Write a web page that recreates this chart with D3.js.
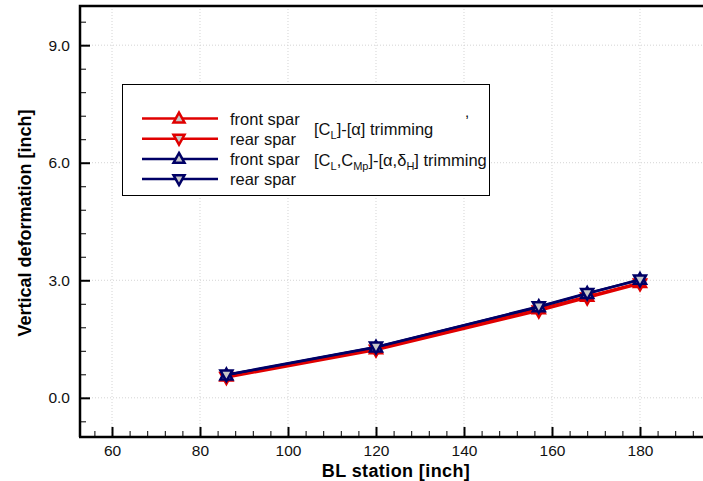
<!DOCTYPE html>
<html>
<head>
<meta charset="utf-8">
<script src="https://cdn.jsdelivr.net/npm/d3@7"></script>
<style>
body { margin:0; background:#fff; }
text { font-family: "Liberation Sans", Arial, sans-serif; }
</style>
</head>
<body>
<div id="chart"></div>
<script>

// BL station of each spar node
var stations = [86, 120, 157, 168, 180];

// vertical deformation [inch]
var cl_front = [0.55, 1.25, 2.27, 2.59, 2.94];
var cl_rear  = [0.52, 1.22, 2.22, 2.55, 2.91];
var clcm_front = [0.58, 1.29, 2.32, 2.66, 3.02];
var clcm_rear  = [0.59, 1.30, 2.33, 2.67, 3.01];

var xticks = [60, 80, 100, 120, 140, 160, 180];
var yticks = [0, 3, 6, 9];
var ytick_labels = ['0.0', '3.0', '6.0', '9.0'];

var series_names = ['front spar', 'rear spar', 'front spar', 'rear spar'];

var red = '#e00000', navy = '#000066';

var series = [
    {vals: cl_front, color: red, up: true},
    {vals: cl_rear, color: red, up: false},
    {vals: clcm_front, color: navy, up: true},
    {vals: clcm_rear, color: navy, up: false}
];

var W = 703, H = 481;

var svg = d3.select('#chart').append('svg')
    .attr('width', W).attr('height', H);

var x = d3.scaleLinear().domain([52.727, 194.32]).range([80, 703]);
var y = d3.scaleLinear().domain([-1, 10]).range([437, 6]);

// dotted grid on the major ticks
svg.append('g').selectAll('line')
    .data(xticks).enter().append('line')
    .attr('x1', d => x(d)).attr('x2', d => x(d))
    .attr('y1', 6).attr('y2', 437)
    .attr('stroke', '#d4d4d4').attr('stroke-dasharray', '1,2');
svg.append('g').selectAll('line')
    .data(yticks).enter().append('line')
    .attr('y1', d => y(d)).attr('y2', d => y(d))
    .attr('x1', 80).attr('x2', W)
    .attr('stroke', '#d4d4d4').attr('stroke-dasharray', '1,2');

// axes: ticks point inward
var xminor = d3.range(56, 195, 4).filter(v => xticks.indexOf(v) < 0);
var yminor = d3.range(-0.6, 10, 0.6).filter(v => Math.abs(v / 3 - Math.round(v / 3)) > 0.01);

var xaxis = svg.append('g').attr('transform', 'translate(0,437)');
xaxis.call(d3.axisBottom(x).tickValues(xminor).tickSize(-6).tickFormat(''))
xaxis.select('.domain').remove();
var xaxis_major = svg.append('g').attr('transform', 'translate(0,437)')
    .call(d3.axisBottom(x).tickValues(xticks).tickSize(-10).tickPadding(8).tickFormat(d3.format('d')));
xaxis_major.select('.domain').remove();
xaxis_major.selectAll('line').attr('stroke-width', 2);

var yaxis = svg.append('g').attr('transform', 'translate(80,0)');
yaxis.call(d3.axisLeft(y).tickValues(yminor).tickSize(-6).tickFormat(''));
yaxis.select('.domain').remove();
var yaxis_major = svg.append('g').attr('transform', 'translate(80,0)')
    .call(d3.axisLeft(y).tickValues(yticks).tickSize(-10).tickPadding(10)
        .tickFormat((d, i) => ytick_labels[i]));
yaxis_major.select('.domain').remove();
yaxis_major.selectAll('line').attr('stroke-width', 2);

svg.selectAll('.tick text')
    .style('font-size', '15.5px')
    .style('font-family', '"Liberation Sans", Arial, sans-serif')
    .attr('fill', '#111');

// frame lines
svg.append('path')
    .attr('d', 'M80,437 L80,6 L' + W + ',6 M79,437 L' + W + ',437')
    .attr('fill', 'none').attr('stroke', '#000').attr('stroke-width', 2.5);

function tri(up, s) {
    var h = s * 0.9;
    if (up) return 'M0,' + (-h * 0.6) + ' L' + (s / 2) + ',' + (h * 0.4) + ' L' + (-s / 2) + ',' + (h * 0.4) + 'Z';
    return 'M0,' + (h * 0.6) + ' L' + (s / 2) + ',' + (-h * 0.4) + ' L' + (-s / 2) + ',' + (-h * 0.4) + 'Z';
}

var line = d3.line().x(d => x(d[0])).y(d => y(d[1]));

series.forEach(function (s) {
    var pts = stations.map((st, i) => [st, s.vals[i]]);
    svg.append('path')
        .datum(pts)
        .attr('d', line)
        .attr('fill', 'none')
        .attr('stroke', s.color)
        .attr('stroke-width', 2.5);
    svg.append('g').selectAll('path')
        .data(pts).enter().append('path')
        .attr('transform', d => 'translate(' + x(d[0]) + ',' + y(d[1]) + ')')
        .attr('d', tri(s.up, 12))
        .attr('fill', '#c8c8c8')
        .attr('stroke', s.color)
        .attr('stroke-width', 2.5);
});

// legend
var leg = svg.append('g');
leg.append('rect')
    .attr('x', 122.5).attr('y', 84.5).attr('width', 367).attr('height', 111)
    .attr('fill', '#fff').attr('stroke', '#000').attr('stroke-width', 1);

var rows = leg.selectAll('g.row')
    .data(series).enter().append('g')
    .attr('transform', (d, i) => 'translate(0,' + (118.5 + i * 20.2) + ')');
rows.append('line')
    .attr('x1', 142).attr('x2', 218).attr('y1', 0).attr('y2', 0)
    .attr('stroke', d => d.color).attr('stroke-width', 2.5);
rows.append('path')
    .attr('transform', 'translate(179,0)')
    .attr('d', d => tri(d.up, 11))
    .attr('fill', '#c8c8c8')
    .attr('stroke', d => d.color).attr('stroke-width', 2.5);
rows.append('text')
    .attr('x', 230).attr('y', 6)
    .style('font-size', '16.5px')
    .attr('fill', '#111')
    .text((d, i) => series_names[i]);

var g1 = leg.append('text').attr('x', 314).attr('y', 135).style('font-size', '16.5px').attr('fill', '#111');
g1.append('tspan').text('[C');
g1.append('tspan').attr('dy', 4).style('font-size', '11px').text('L');
g1.append('tspan').attr('dy', -4).text(']-[α] trimming');

var g2 = leg.append('text').attr('x', 314).attr('y', 166).style('font-size', '16.5px').attr('fill', '#111');
g2.append('tspan').text('[C');
g2.append('tspan').attr('dy', 4).style('font-size', '11px').text('L');
g2.append('tspan').attr('dy', -4).text(',C');
g2.append('tspan').attr('dy', 4).style('font-size', '11px').text('Mp');
g2.append('tspan').attr('dy', -4).text(']-[α,δ');
g2.append('tspan').attr('dy', 4).style('font-size', '11px').text('H');
g2.append('tspan').attr('dy', -4).text('] trimming');

leg.append('text').attr('x', 465).attr('y', 117).style('font-size', '15px').text(',');

// axis titles
svg.append('text')
    .attr('x', 396).attr('y', 477)
    .attr('text-anchor', 'middle')
    .style('font-size', '18px').style('font-weight', 'bold')
    .style('letter-spacing', '0.4px')
    .text('BL station [inch]');

svg.append('text')
    .attr('transform', 'translate(31,223) rotate(-90)')
    .attr('text-anchor', 'middle')
    .style('font-size', '18px').style('font-weight', 'bold')
    .text('Vertical deformation [inch]');

</script>
</body>
</html>
